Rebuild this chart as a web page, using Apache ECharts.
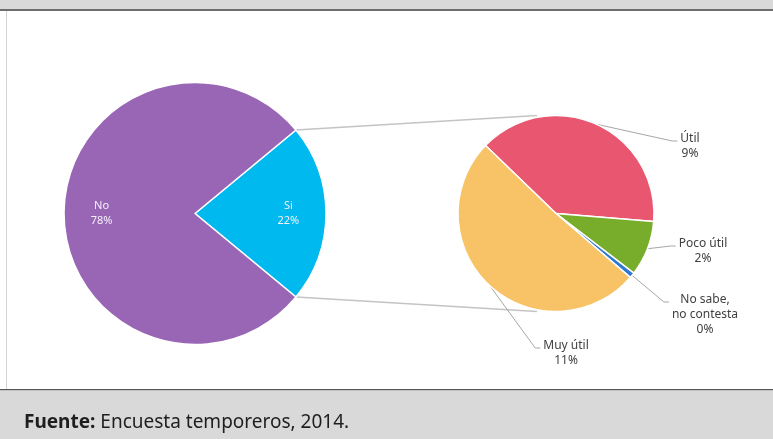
<!DOCTYPE html>
<html>
<head>
<meta charset="utf-8">
<script src="https://cdn.jsdelivr.net/npm/echarts@6/dist/echarts.min.js"></script>
<style>
html,body{margin:0;padding:0;background:#fff;}
#main{width:773px;height:439px;}
</style>
</head>
<body>
<div id="main"></div>
<script>
// datos
var outerNames = ['Si', 'No'];
var outerValues = [22, 78];
var outerColors = ['#00b9ef', '#9966b6'];
var innerNames = ['Útil', 'Poco útil', 'No sabe,\nno contesta', 'Muy útil'];
var innerValues = [8.6, 2.0, 0.2, 11.2];
var innerColors = ['#e9566f', '#78ad2b', '#2f78d0', '#f8c266'];

var myChart = echarts.init(document.getElementById('main'));
var font = '"Noto Sans", "Open Sans", sans-serif';

var L = [195, 213.5], rL = 131;
var R = [556, 213.5], rR = 98;
// posiciones de etiquetas del pie derecho (centro x, borde superior y)
var spots = [[690, 131], [703, 236], [705, 292], [566, 338]];

var half = outerValues[0] / (outerValues[0] + outerValues[1]) * 180;
var rad = half * Math.PI / 180;

var outerData = outerNames.map(function (n, i) {
	return {name: n, value: outerValues[i], itemStyle: {color: outerColors[i]}};
});
var labelData = outerNames.map(function (n, i) {
	return {name: n, value: outerValues[i]};
});
var innerData = innerNames.map(function (n, i) {
	return {name: n, value: innerValues[i], itemStyle: {color: innerColors[i]}};
});

var option = {
	animation: false,
	title: {
		text: '{b|Fuente:} Encuesta temporeros, 2014.',
		left: 24,
		top: 413,
		padding: 0,
		textStyle: {
			fontFamily: font, fontSize: 19, fontWeight: 'normal', color: '#1e1e1e',
			rich: {b: {fontFamily: font, fontSize: 19, fontWeight: 'bold', color: '#1e1e1e'}}
		}
	},
	graphic: [
		{type: 'rect', z: -10, shape: {x: 0, y: 0, width: 773, height: 9}, style: {fill: '#d9d9d9'}},
		{type: 'rect', z: -10, shape: {x: 0, y: 9, width: 773, height: 2}, style: {fill: '#6e6e6e'}},
		{type: 'rect', z: -10, shape: {x: 6, y: 11, width: 1, height: 378}, style: {fill: '#d4d4d4'}},
		{type: 'rect', z: -10, shape: {x: 0, y: 389, width: 773, height: 1.5}, style: {fill: '#555555'}},
		{type: 'rect', z: -10, shape: {x: 0, y: 390.5, width: 773, height: 49}, style: {fill: '#d9d9d9'}},
		{type: 'line', shape: {x1: L[0] + rL * Math.cos(rad), y1: L[1] - rL * Math.sin(rad), x2: R[0] - 19, y2: R[1] - rR},
			style: {stroke: '#c4c4c4', lineWidth: 1.3}},
		{type: 'line', shape: {x1: L[0] + rL * Math.cos(rad), y1: L[1] + rL * Math.sin(rad), x2: R[0] - 19, y2: R[1] + rR},
			style: {stroke: '#c4c4c4', lineWidth: 1.3}}
	],
	series: [
		{
			type: 'pie',
			center: L,
			radius: [0, rL],
			startAngle: half,
			clockwise: true,
			silent: true,
			label: {show: false},
			labelLine: {show: false},
			itemStyle: {borderColor: '#fff', borderWidth: 1.5},
			data: outerData
		},
		{
			// anillo invisible solo para ubicar las etiquetas
			type: 'pie',
			center: L,
			radius: [rL * 0.38, rL],
			startAngle: half,
			clockwise: true,
			silent: true,
			z: 3,
			itemStyle: {color: 'rgba(0,0,0,0)'},
			label: {
				show: true,
				position: 'inside',
				color: '#f4f0fa',
				fontFamily: font,
				fontSize: 11,
				lineHeight: 15,
				formatter: function (p) { return p.name + '\n' + p.value + '%'; }
			},
			labelLine: {show: false},
			data: labelData
		},
		{
			type: 'pie',
			center: R,
			radius: [0, rR],
			startAngle: 136,
			clockwise: true,
			silent: true,
			itemStyle: {borderColor: '#fff', borderWidth: 1.5},
			label: {
				show: true,
				color: '#404040',
				fontFamily: font,
				fontSize: 12,
				lineHeight: 15,
				align: 'center',
				formatter: function (p) { return p.name + '\n' + Math.round(p.value) + '%'; }
			},
			labelLine: {show: true, length: 10, length2: 10, lineStyle: {color: '#a6a6a6', width: 1}},
			labelLayout: function (params) {
				var s = spots[params.dataIndex];
				var w = params.labelRect.width;
				var ly = s[1] + 10;
				var ex = s[0] - w / 2 - 3;
				var p0 = params.labelLinePoints ? params.labelLinePoints[0] : [R[0], R[1]];
				return {
					x: s[0], y: s[1], align: 'center', verticalAlign: 'top',
					labelLinePoints: [p0, [ex - 5, ly], [ex, ly]]
				};
			},
			data: innerData
		}
	]
};
myChart.setOption(option);
</script>
</body>
</html>
